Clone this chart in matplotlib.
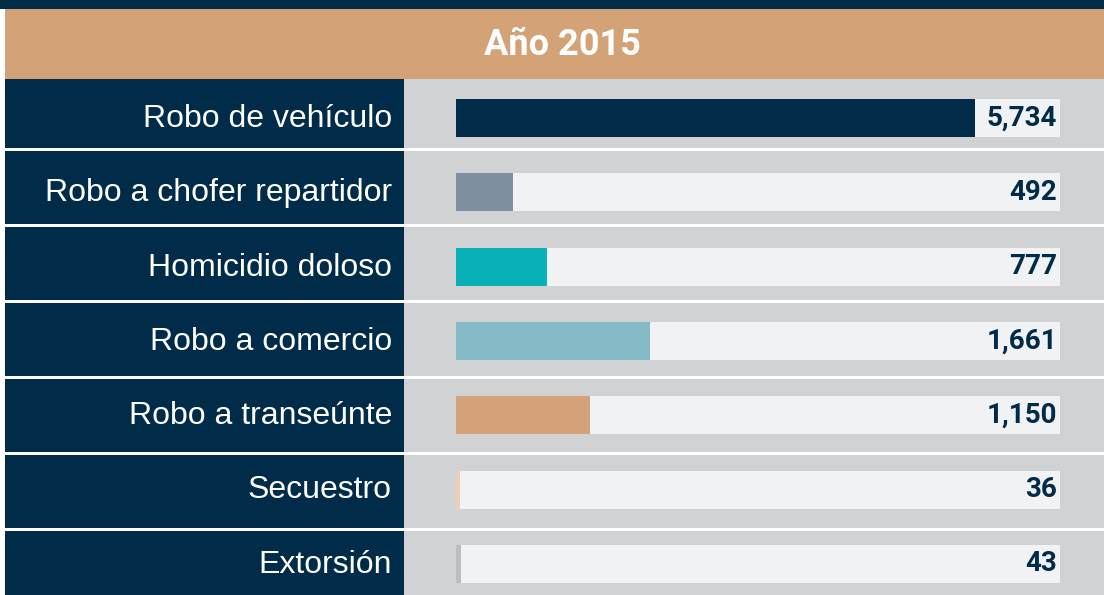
import matplotlib
matplotlib.use("Agg")
import matplotlib.pyplot as plt
from matplotlib.patches import Rectangle

categories = ["Robo de vehículo", "Robo a chofer repartidor", "Homicidio doloso",
              "Robo a comercio", "Robo a transeúnte", "Secuestro", "Extorsión"]
values = [5734, 492, 777, 1661, 1150, 36, 43]
value_labels = ["5,734", "492", "777", "1,661", "1,150", "36", "43"]
bar_colors = ["#002b49", "#7f8fa0", "#0ab0b8", "#84bbc6", "#d4a178", "#f0cdb5", "#bcbdc1"]
title = "Año 2015"

NAVY = "#002b49"
TAN = "#d4a277"
PANEL = "#d1d2d4"
TRACK = "#f1f2f4"

W, H = 1104, 595
fig = plt.figure(figsize=(W / 100, H / 100), dpi=100)

# background layout in pixel units
bg = fig.add_axes([0, 0, 1, 1])
bg.set_xlim(0, W)
bg.set_ylim(H, 0)
bg.axis("off")

row_top = 75
row_h = 76
for i in range(len(categories)):
    y0 = row_top + i * row_h
    bg.add_patch(Rectangle((5, y0), 399, row_h - 3, color=NAVY, lw=0))
    bg.add_patch(Rectangle((404, y0), W - 404, row_h - 3, color=PANEL, lw=0))

bg.add_patch(Rectangle((0, 0), W, 9, color=NAVY, lw=0))
bg.add_patch(Rectangle((5, 9), W - 5, 70, color=TAN, lw=0))
bg.text(562, 45, title, ha="center", va="center", color="white",
        fontsize=26, fontweight="bold", family=["Roboto", "DejaVu Sans"])

# bars, own vertical scale: first centre at 118 px, pitch 74.3 px
track_l, track_r = 456, 1060
bar_c0, bar_pitch = 118, 74.3
ax = fig.add_axes([track_l / W, 0, (track_r - track_l) / W, 1])
px_per_unit = 0.1165
xmax = (track_r - track_l) / px_per_unit
ax.set_xlim(0, xmax)
ax.set_ylim((H - bar_c0) / bar_pitch, -bar_c0 / bar_pitch)
ax.axis("off")
ax.patch.set_alpha(0)

pos = list(range(len(categories)))
ax.barh(pos, [xmax] * len(pos), height=38 / bar_pitch, color=TRACK, lw=0)
bars = ax.barh(pos, values, height=38 / bar_pitch, color=bar_colors, lw=0)
# long bar stops where its label starts
clip = Rectangle((0, 0), 519 / (track_r - track_l), 1, transform=ax.transAxes)
for b in bars:
    b.set_clip_path(clip)

for i, (cat, lab) in enumerate(zip(categories, value_labels)):
    ax.text(xmax * 0.995, i, lab, ha="right", va="center", color=NAVY,
            fontsize=20, fontweight="bold", family=["Roboto", "DejaVu Sans"])
    bg.text(392, bar_c0 + i * bar_pitch + 1, cat, ha="right", va="center",
            color="white", fontsize=23, family="Liberation Sans")

fig.savefig("out.png", dpi=100)
